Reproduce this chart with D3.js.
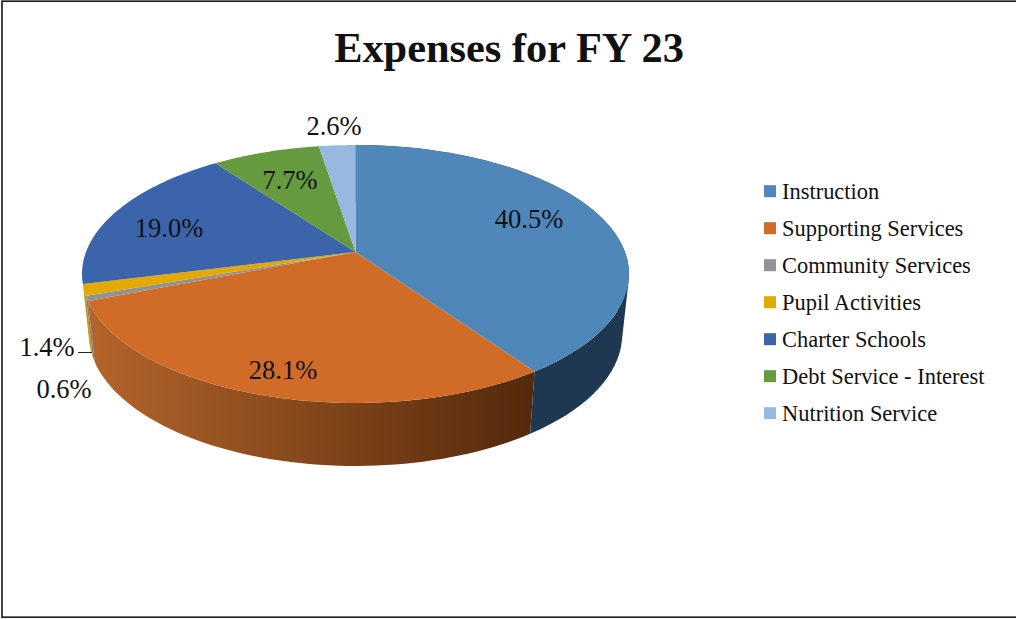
<!DOCTYPE html>
<html lang="en">
<head>
<meta charset="UTF-8">
<title>Expenses for FY 23</title>
<script src="https://d3js.org/d3.v7.min.js"></script>
<style>
  body { margin: 0; background: #fff; }
  svg { display: block; font-family: "Liberation Serif", serif; fill: #111; }
</style>
</head>
<body>
<svg id="chart" width="1016" height="619"></svg>
<script>

// ------ Data ------
const categories = ["Instruction", "Supporting Services", "Community Services", "Pupil Activities",
  "Charter Schools", "Debt Service - Interest", "Nutrition Service"];
const shares = [40.5, 28.1, 0.6, 1.4, 19.0, 7.7, 2.6];
const shareLabels = ["40.5%", "28.1%", "0.6%", "1.4%", "19.0%", "7.7%", "2.6%"];
const colors = ["#4f87ba", "#d06c28", "#939393", "#e3a900", "#3c64ab", "#659a3e", "#97b9e0"];
const wallLeft = ["#1f3852", "#b4652b", "#7a7a7a", "#c49200"];
const wallRight = ["#1f3852", "#54290c", "#7a7a7a", "#c49200"];

// ------ Layout ------
const width = 1016, height = 619;
const cx = 355.5, cy = 252;      // apex of the pie
const rx = 269.5, ry = 125.2;    // plane radius before perspective
const persp = 0.1705;            // tilt makes the near side bigger
const skew = 0.025;              // apex sits a little off the true centre

const labelPos = [[529, 219], [283, 370], [64, 389], [47, 347], [169, 228], [290, 180], [334, 126]];
const legendX = 764, legendY = 191.2, legendStep = 37;

const svg = d3.select("#chart");

// pie angle -> screen, top rim of the disc
function topRim(a) {
  const t = a - skew * Math.sin(a);
  const x = Math.sin(t), z = Math.cos(t);
  const s = 1 / (1 + persp * z);
  return [cx + rx * x * s, cy - ry * z * s];
}

// same angle on the bottom rim, a bit narrower and further down
function bottomRim(a) {
  const [x, y] = topRim(a);
  return [cx + (x - cx) * 0.975, cy + (y - cy) * 1.02 + 60];
}

const pie = d3.pie().value(d => d).sort(null);
const arcs = pie(shares);
const line = d3.line();

function steps(a0, a1) {
  return d3.range(0, 61).map(i => a0 + (a1 - a0) * i / 60);
}

const defs = svg.append("defs");

// frame, runs off the right edge
svg.append("rect")
  .attr("x", 2).attr("y", 1.2)
  .attr("width", 1020).attr("height", 616)
  .attr("fill", "none")
  .attr("stroke", "#222")
  .attr("stroke-width", 1.7);

// side walls, the slices further back never show one
arcs.slice(0, wallLeft.length).forEach((d, i) => {
  const id = `wall-${i}`;
  const grad = defs.append("linearGradient")
    .attr("id", id)
    .attr("gradientUnits", "userSpaceOnUse")
    .attr("x1", topRim(d.endAngle)[0]).attr("y1", 0)
    .attr("x2", topRim(d.startAngle)[0]).attr("y2", 0);
  grad.append("stop").attr("offset", 0).attr("stop-color", wallLeft[i]);
  grad.append("stop").attr("offset", 1).attr("stop-color", wallRight[i]);

  // one quad per step, hulled so they all wind the same way and the
  // silhouette stays filled where the two rims cross
  const ang = steps(d.startAngle, d.endAngle);
  const quads = ang.slice(1).map((a, j) => {
    const hull = d3.polygonHull([topRim(ang[j]), topRim(a), bottomRim(a), bottomRim(ang[j])]);
    return line(hull) + "Z";
  });
  svg.append("path")
    .attr("d", quads.join(""))
    .attr("fill", `url(#${id})`);
});

// top faces
arcs.forEach((d, i) => {
  const pts = [[cx, cy]].concat(steps(d.startAngle, d.endAngle).map(topRim));
  svg.append("path")
    .attr("d", line(pts) + "Z")
    .attr("fill", colors[i]);
});

// leader for the small slice
svg.append("path")
  .attr("d", line([[78, 352.5], [92, 352.5]]))
  .attr("stroke", "#222")
  .attr("fill", "none");

// data labels
svg.selectAll("text.value")
  .data(shareLabels)
  .join("text")
    .attr("class", "value")
    .attr("x", (d, i) => labelPos[i][0])
    .attr("y", (d, i) => labelPos[i][1])
    .attr("text-anchor", "middle")
    .attr("dominant-baseline", "central")
    .style("font-size", "26.5px")
    .text(d => d);

// title
svg.append("text")
  .attr("x", 509).attr("y", 62)
  .attr("text-anchor", "middle")
  .style("font-size", "42.4px")
  .style("font-weight", "bold")
  .text("Expenses for FY 23");

// legend
const legend = svg.selectAll("g.legend")
  .data(categories)
  .join("g")
    .attr("class", "legend")
    .attr("transform", (d, i) => `translate(${legendX},${legendY + i * legendStep})`);

legend.append("rect")
  .attr("y", -6).attr("width", 12).attr("height", 12)
  .attr("fill", (d, i) => colors[i]);

legend.append("text")
  .attr("x", 18)
  .attr("dominant-baseline", "central")
  .style("font-size", "22.45px")
  .text(d => d);

</script>
</body>
</html>
